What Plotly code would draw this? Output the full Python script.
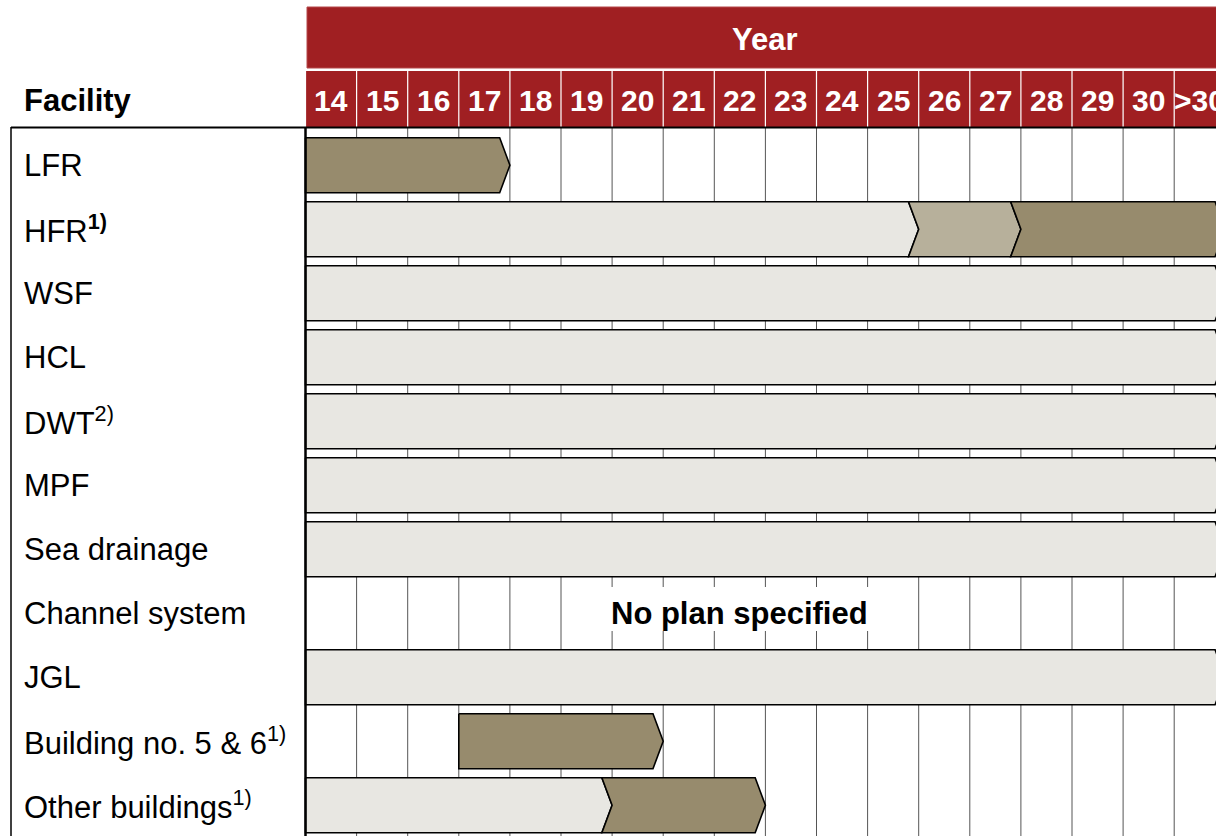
import plotly.graph_objects as go

# ---------------- data ----------------
years = ["14", "15", "16", "17", "18", "19", "20", "21", "22", "23",
         "24", "25", "26", "27", "28", "29", "30", ">30"]
facilities = ["LFR", "HFR", "WSF", "HCL", "DWT", "MPF", "Sea drainage",
              "Channel system", "JGL", "Building no. 5 & 6", "Other buildings"]
footnotes = ["", "1)", "", "", "2)", "", "", "", "", "1)", "1)"]
footnote_bold = [False, True, False, False, False, False, False, False, False, False, False]

# plan segments: facility, first year, last year, phase
seg_facility = ["LFR", "HFR", "HFR", "HFR", "WSF", "HCL", "DWT", "MPF",
                "Sea drainage", "JGL", "Building no. 5 & 6",
                "Other buildings", "Other buildings"]
seg_first = ["14", "14", "26", "28", "14", "14", "14", "14", "14", "14", "17", "14", "20"]
seg_last = ["17", "25", "27", ">30", ">30", ">30", ">30", ">30", ">30", ">30", "20", "19", "22"]
seg_phase = ["dark", "light", "mid", "dark", "light", "light", "light", "light",
             "light", "light", "dark", "light", "dark"]

no_plan_facility = "Channel system"
no_plan_text = "No plan specified"
no_plan_year = "22"

# ---------------- styling / layout ----------------
W, H = 1216, 836
X0_PX, COL_PX = 305.5, 51.1
Y0_PX, ROW_PX = 165.2, 64.0
FONT = "Liberation Sans, Arial, sans-serif"
FS = 31
RED = "#A01F22"
phase_colors = {"light": "#E8E7E2", "mid": "#B7B09B", "dark": "#978B6D"}
BAR_H = 0.43      # half height in row units
NOTCH = 0.2       # arrow depth in column units


def cx(px):
    return (px - X0_PX) / COL_PX


def ry(px):
    return (px - Y0_PX) / ROW_PX


fig = go.Figure()

# vertical grid lines
gx, gy = [], []
for k in range(1, len(years) + 1):
    gx += [k, k, None]
    gy += [ry(127), ry(H) + 1, None]
fig.add_trace(go.Scatter(x=gx, y=gy, mode="lines",
                         line=dict(color="#555555", width=1),
                         hoverinfo="skip", showlegend=False))

# white box behind "No plan specified"
r_np = facilities.index(no_plan_facility)
c_np = years.index(no_plan_year) + 0.5
fig.add_shape(type="rect", xref="x", yref="y",
              x0=cx(598), x1=cx(884), y0=ry(587), y1=ry(631),
              fillcolor="white", line=dict(width=0), layer="above")

# bars
row_ends = {}
for f, a, b, ph in zip(seg_facility, seg_first, seg_last, seg_phase):
    r = facilities.index(f)
    s = years.index(a)
    e = years.index(b) + 1
    notched = row_ends.get(r) == s
    row_ends[r] = e
    if notched:
        xs = [s - NOTCH, e - NOTCH, e, e - NOTCH, s - NOTCH, s, s - NOTCH]
        ys = [r - BAR_H, r - BAR_H, r, r + BAR_H, r + BAR_H, r, r - BAR_H]
    else:
        xs = [s, e - NOTCH, e, e - NOTCH, s, s]
        ys = [r - BAR_H, r - BAR_H, r, r + BAR_H, r + BAR_H, r - BAR_H]
    fig.add_trace(go.Scatter(x=xs, y=ys, mode="lines", fill="toself",
                             fillcolor=phase_colors[ph],
                             line=dict(color="black", width=1.6),
                             hoverinfo="skip", showlegend=False))

# header: Year box
fig.add_shape(type="rect", xref="x", yref="y",
              x0=cx(307), x1=len(years) + 1, y0=ry(7), y1=ry(68),
              fillcolor=RED, line=dict(color="#B5484B", width=1))
# year cells
for k in range(len(years)):
    fig.add_shape(type="rect", xref="x", yref="y",
                  x0=k + 0.012, x1=k + 1 - 0.012, y0=ry(71), y1=ry(127),
                  fillcolor=RED, line=dict(width=0))
    fig.add_annotation(x=k + 0.5, y=ry(100), xref="x", yref="y",
                       text="<b>%s</b>" % years[k], showarrow=False,
                       font=dict(family=FONT, size=FS - 1, color="white"),
                       xanchor="center", yanchor="middle")

fig.add_annotation(x=len(years) / 2, y=ry(39), xref="x", yref="y",
                   text="<b>Year</b>", showarrow=False,
                   font=dict(family=FONT, size=FS, color="white"),
                   xanchor="center", yanchor="middle")

# facility label box
fig.add_shape(type="line", xref="x", yref="y", x0=cx(11), x1=cx(11),
              y0=ry(127), y1=ry(H) + 1, line=dict(color="black", width=1.5))
fig.add_shape(type="line", xref="x", yref="y", x0=cx(11), x1=len(years) + 1,
              y0=ry(127.5), y1=ry(127.5), line=dict(color="black", width=2))
fig.add_shape(type="line", xref="x", yref="y", x0=0, x1=0,
              y0=ry(127), y1=ry(H) + 1, line=dict(color="black", width=2.5),
              layer="above")

fig.add_annotation(x=cx(21.5), y=ry(100), xref="x", yref="y",
                   text="<b>Facility</b>", showarrow=False,
                   font=dict(family=FONT, size=FS, color="black"),
                   xanchor="left", yanchor="middle")

for i, (name, fn, fb) in enumerate(zip(facilities, footnotes, footnote_bold)):
    t = name
    if fn:
        t += "<sup><b>%s</b></sup>" % fn if fb else "<sup>%s</sup>" % fn
    fig.add_annotation(x=cx(21.5), y=i, xref="x", yref="y", text=t,
                       showarrow=False,
                       font=dict(family=FONT, size=FS, color="black"),
                       xanchor="left", yanchor="middle")

fig.add_annotation(x=c_np, y=r_np, xref="x", yref="y",
                   text="<b>%s</b>" % no_plan_text, showarrow=False,
                   font=dict(family=FONT, size=FS, color="black"),
                   xanchor="center", yanchor="middle")

fig.update_layout(
    width=W, height=H,
    margin=dict(l=0, r=0, t=0, b=0),
    paper_bgcolor="white", plot_bgcolor="white",
    xaxis=dict(range=[cx(0), cx(W)], visible=False, fixedrange=True),
    yaxis=dict(range=[ry(H), ry(0)], visible=False, fixedrange=True),
    showlegend=False,
)

fig.write_html("out.html")
